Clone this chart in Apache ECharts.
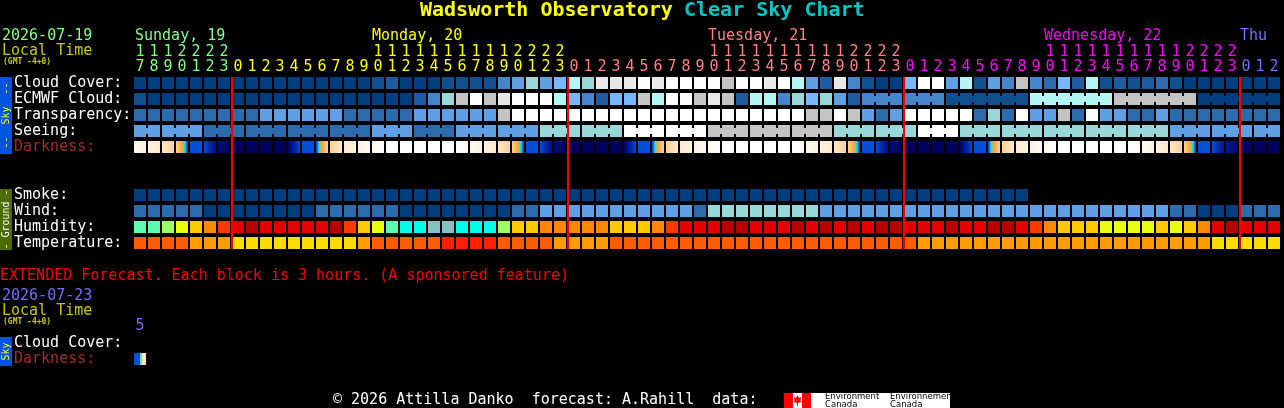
<!DOCTYPE html>
<html>
<head>
<meta charset="utf-8">
<style>html,body{margin:0;padding:0;background:#000}#c{width:1284px;height:408px}</style>
<script src="https://cdn.jsdelivr.net/npm/echarts@6/dist/echarts.min.js"></script>
</head>
<body>
<div id="c"></div>
<script>
// Hour labels (one column per forecast hour)
const hourTens = ['1','1','1','2','2','2','2','','','','','','','','','','','1','1','1','1','1','1','1','1','1','1','2','2','2','2',
  '','','','','','','','','','','1','1','1','1','1','1','1','1','1','1','2','2','2','2',
  '','','','','','','','','','','1','1','1','1','1','1','1','1','1','1','2','2','2','2','','',''];
const hourOnes = ['7','8','9','0','1','2','3','0','1','2','3','4','5','6','7','8','9','0','1','2','3','4','5','6','7','8','9','0','1','2','3',
  '0','1','2','3','4','5','6','7','8','9','0','1','2','3','4','5','6','7','8','9','0','1','2','3',
  '0','1','2','3','4','5','6','7','8','9','0','1','2','3','4','5','6','7','8','9','0','1','2','3','0','1','2'];
const midnights = [7, 31, 55, 79];
const dayColors = ['#80ff80', '#ffff00', '#ff8080', '#ff00ff', '#7070ff'];
const dayLabels = ['Sunday, 19', 'Monday, 20', 'Tuesday, 21', 'Wednesday, 22', 'Thu'];
const dayLabelCols = [0, 17, 41, 65, 79];

const rowLabels = ['Cloud Cover:', 'ECMWF Cloud:', 'Transparency:', 'Seeing:', 'Darkness:', '', ' ', 'Smoke:', 'Wind:', 'Humidity:', 'Temperature:'];
const extRowLabels = ['Cloud Cover:', 'Darkness:'];
const extHours = ['5'];

// Sky condition levels 0..11 (palette index)
const cloudCover = [0,0,0,0,0,0,0,0,0,0, 0,0,0,0,0,0,0,1,2,0, 0,0,1,1,1,1,4,5,7,5,
  6,8,7,10,10,10,11,10,11,11, 11,11,9,11,11,10,11,8,5,2, 10,4,1,0,0,6,11,11,5,8,
  1,5,4,9,4,3,6,2,8,1, 2,1,2,3,1,0,0,0,0,0, 0,0];
const ecmwfCloud = [1,0,0,0,0,0,0,0,0,0, 0,0,0,0,0,0,0,0,0,0, 2,4,7,9,11,9,10,11,11,11,
  8,6,4,2,6,6,9,8,11,11, 9,10,9,2,8,8,4,7,6,7, 5,2,4,4,4,4,4,4,1,1,
  1,1,1,1,8,8,8,8,8,8, 9,9,9,9,9,9,0,0,0,0, 0,0];
const ecmwfBlocks = [1,1,1,1,1,1,1,1,1,1, 1,1,1,1,1,1,1,1,1,1, 1,1,1,1,1,1,1,1,1,1,
  1,1,1,1,1,1,1,1,1,1, 1,1,1,1,1,1,1,1,1,1, 1,1, 3,3,6,6,6,6];
const transparency = [3,3,3,3,3,3,3,3,3,5, 5,5,5,5,5,3,3,3,3,3, 5,5,5,5,5,5,9,11,11,11,
  11,11,11,11,11,11,11,11,11,11, 11,11,11,11,11,11,11,11,9,9, 11,9,5,3,5,11,11,11,11,11,
  3,7,3,11,5,5,9,3,11,5, 5,3,3,5,3,3,3,3,3,3, 3,3];
const seeing = [5,5,5,5,5,3,3,3,3,3, 3,3,3,3,3,3,3,5,5,5, 3,3,3,5,5,5,5,5,5,7,
  7,7,7,7,7,11,11,11,11,11, 11,9,9,9,9,9,9,9,9,9, 7,7,7,7,7,7,11,11,11,7,
  7,7,7,7,7,7,7,7,7,7, 7,7,7,7,5,5,5,5,5,5, 5,5];
const seeingBlocks = [2,3,3,3,3,3,3,3,3,3, 3,3,3,3,3,3,3,3,3,3, 3,3,3,3,3,3,3,2];
// Darkness at each cell's left edge (last value closes the last cell): 0 = daylight, 8 = full night
const darkness = [0.7,1.3,2,3,4.9,6,7.6,8,8,8, 8,8,6,4.9,3,2,1.3,0.7,0,0, 0,0,0,0,0.7,1.3,2,3,4.9,6,
  7.6,8,8,8,8,8,6,4.9,3,2, 1.3,0.7,0,0,0,0,0,0,0.7,1.3, 2,3,4.9,6,7.6,8,8,8,8,8,
  6,4.9,3,2,1.3,0.7,0,0,0,0, 0,0,0.7,1.3,2,3,4.9,6,7.3,7.8, 8,8,8];
const extDarkness = [0, 1];

// Ground conditions
const smoke = [0,0,0,0,0,0,0,0,0,0, 0,0,0,0,0,0,0,0,0,0, 0,0,0,0,0,0,0,0,0,0,
  0,0,0,0,0,0,0,0,0,0, 0,0,0,0,0,0,0,0,0,0, 0,0,0,0,0,0,0,0,0,0, 0,0,0,0];
const wind = [3,3,3,3,3,0,0,0,0,0, 0,0,0,3,3,3,3,3,3,0, 0,0,0,0,0,0,0,3,3,5,
  5,5,5,5,5,5,5,5,5,5, 3,7,7,7,7,7,7,7,7,5, 5,5,5,5,5,5,5,5,5,5,
  5,5,5,5,5,5,5,5,5,5, 5,5,5,5,3,3,0,0,0,3, 3,3];
const humidity = [60,60,65,70,75,80,85,92,98,92, 92,92,92,92,98,85,75,70,60,55, 55,50,50,55,55,55,65,75,75,80,
  80,80,80,80,75,75,75,80,85,92, 92,92,98,98,92,92,92,98,92,98, 92,98,92,98,98,92,92,92,98,92,
  92,98,98,92,85,80,75,75,75,70, 70,70,70,75,70,75,80,92,98,92, 92,92];
const temperature = [21,21,21,21,18,18,18,15,15,15, 15,15,15,15,15,15,18,21,21,21, 21,21,24,24,24,24,21,21,21,21,
  18,18,18,18,21,21,21,21,21,21, 21,21,21,21,21,21,21,21,21,21, 21,21,21,21,21,21,18,18,18,18,
  18,18,18,18,18,18,18,18,18,18, 18,18,18,18,18,18,18,15,15,15, 15,15];

const skyPalette = ['#003f7f','#11508f','#1d5d9f','#2c6cad','#4585cb','#5f9fe4','#76b6fc','#98d8d8','#b4f6f6','#c4c4c4','#e8e8e8','#ffffff'];
const humidityColors = {50:'#88c0c0',55:'#00ffe8',60:'#5cffb0',65:'#9cff64',70:'#e8ff10',75:'#ffc800',80:'#ff8800',85:'#ff3800',92:'#e40000',98:'#b80000'};
const temperatureColors = {24:'#ff2000',21:'#ff5c00',18:'#ff9c00',15:'#ffdc00'};
const darkRamp = [[0,'#ffffff'],[1,'#fff6e8'],[2,'#ffe8cc'],[3,'#ffd090'],[4,'#ffa030'],[4.4,'#20e0e0'],[4.8,'#0050d8'],[6,'#0050d8'],[6.6,'#0030b0'],[7.3,'#001890'],[8,'#00005c']];
const extRamp = [[0,'#0050d8'],[0.49,'#0050d8'],[0.52,'#70d8c0'],[0.64,'#70d8c0'],[0.68,'#ffe8b0'],[1,'#ffe8c0']];

const MONO = '"DejaVu Sans Mono", monospace';

function rampColor(ramp, v) {
  for (let i = 1; i < ramp.length; i++) {
    if (v <= ramp[i][0]) {
      const a = ramp[i - 1], b = ramp[i];
      return echarts.color.lerp((v - a[0]) / (b[0] - a[0]), [a[1], b[1]]);
    }
  }
  return ramp[ramp.length - 1][1];
}
function dayIndex(col) { return midnights.filter(m => m <= col).length; }
function cells(values, row) { return values.map((v, i) => [i, row, v]); }
function linkedCells(values, row, blocks) {
  const last = new Set(); let n = 0;
  blocks.forEach(b => { n += b; last.add(n - 1); });
  return values.map((v, i) => [i, row, v, last.has(i) ? 0 : 1]);
}
function cellSeries(data, colorOf, xAxisIndex, yAxisIndex) {
  return {
    type: 'custom', xAxisIndex: xAxisIndex, yAxisIndex: yAxisIndex, data: data, silent: true,
    encode: {x: 0, y: 1}, clip: false, z: 2,
    renderItem: function (params, api) {
      const c = api.coord([api.value(0), api.value(1)]);
      const fill = colorOf(api.value(2));
      const children = [{type: 'rect', shape: {x: c[0] - 6, y: c[1] - 6, width: 12, height: 12}, style: {fill: fill}}];
      if (api.value(3) === 1) {
        children.push({type: 'rect', shape: {x: c[0] + 6, y: c[1] - 3, width: 2, height: 6}, style: {fill: fill}});
      }
      return {type: 'group', children: children};
    }
  };
}
function gradientSeries(edges, ramp, row, xAxisIndex, yAxisIndex) {
  const data = edges.slice(0, -1).map((v, i) => [i, row, v, edges[i + 1]]);
  return {
    type: 'custom', xAxisIndex: xAxisIndex, yAxisIndex: yAxisIndex, data: data, silent: true,
    encode: {x: 0, y: 1}, clip: false, z: 2,
    renderItem: function (params, api) {
      const c = api.coord([api.value(0), api.value(1)]);
      const a = api.value(2), b = api.value(3), stops = [];
      for (let k = 0; k <= 24; k++) stops.push({offset: k / 24, color: rampColor(ramp, a + (b - a) * k / 24)});
      return {type: 'rect', shape: {x: c[0] - 6, y: c[1] - 6, width: 12, height: 12},
        style: {fill: {type: 'linear', x: 0, y: 0, x2: 1, y2: 0, colorStops: stops}}};
    }
  };
}
const midnightSeries = {
  type: 'custom', xAxisIndex: 0, yAxisIndex: 0, silent: true, clip: false, z: 5,
  data: midnights.map(m => [m, 0]), encode: {x: 0, y: 1},
  renderItem: function (params, api) {
    const c0 = api.coord([api.value(0), 0]), c1 = api.coord([api.value(0), 10]), s = api.size([1, 1]);
    return {type: 'rect', shape: {x: c0[0] - s[0] / 2, y: c0[1] - 6, width: 2, height: c1[1] - c0[1] + 12}, style: {fill: '#ff0000'}};
  }
};

function topAxis(labels, gridIndex, offset, margin, colorFn) {
  return {
    type: 'category', gridIndex: gridIndex, position: 'top', offset: offset, data: labels, boundaryGap: true,
    axisLine: {show: false}, axisTick: {show: false}, splitLine: {show: false},
    axisLabel: {show: true, interval: 0, margin: margin, hideOverlap: false, fontFamily: MONO, fontSize: 15, color: colorFn}
  };
}
function rowAxis(labels, gridIndex) {
  return {
    type: 'category', gridIndex: gridIndex, inverse: true, data: labels, position: 'left',
    axisLine: {show: false}, axisTick: {show: false}, splitLine: {show: false},
    axisLabel: {show: true, interval: 0, align: 'left', margin: 119, hideOverlap: false, fontFamily: MONO, fontSize: 15, padding: [0, 0, 3, 0],
      color: v => v === 'Darkness:' ? '#a52a2a' : '#ffffff'}
  };
}
function txt(text, x, cy, color, size, weight) {
  return {type: 'text', x: x, y: cy, silent: true, z: 10,
    style: {text: text, fill: color, font: (weight || 'normal') + ' ' + size + 'px ' + MONO, verticalAlign: 'middle'}};
}
function sideBar(y0, y1, fill, label, color) {
  return [
    {type: 'rect', shape: {x: 0, y: y0, width: 12, height: y1 - y0}, style: {fill: fill}, silent: true, z: 9},
    {type: 'text', x: 6, y: (y0 + y1) / 2, rotation: Math.PI / 2, silent: true, z: 10,
      style: {text: label, fill: color, font: 'normal 10px ' + MONO, align: 'center', verticalAlign: 'middle'}}
  ];
}

const colorByCol = (v, i) => dayColors[dayIndex(i)];
const chart = echarts.init(document.getElementById('c'), null, {renderer: 'canvas'});
chart.setOption({
  animation: false,
  backgroundColor: '#000000',
  grid: [
    {left: 133, top: 75, width: 1148, height: 176, containLabel: false},
    {left: 133, top: 335, width: 14, height: 32, containLabel: false}
  ],
  xAxis: [
    topAxis(hourOnes, 0, 0, 0, colorByCol),
    topAxis(hourTens, 0, 15, 0, colorByCol),
    topAxis(extHours, 1, 0, 1, () => '#7070ff')
  ],
  yAxis: [rowAxis(rowLabels, 0), rowAxis(extRowLabels, 1)],
  series: [
    cellSeries(cells(cloudCover, 0), v => skyPalette[v], 0, 0),
    cellSeries(linkedCells(ecmwfCloud, 1, ecmwfBlocks), v => skyPalette[v], 0, 0),
    cellSeries(cells(transparency, 2), v => skyPalette[v], 0, 0),
    cellSeries(linkedCells(seeing, 3, seeingBlocks), v => skyPalette[v], 0, 0),
    gradientSeries(darkness, darkRamp, 4, 0, 0),
    cellSeries(cells(smoke, 7), v => skyPalette[v], 0, 0),
    cellSeries(cells(wind, 8), v => skyPalette[v], 0, 0),
    cellSeries(cells(humidity, 9), v => humidityColors[v], 0, 0),
    cellSeries(cells(temperature, 10), v => temperatureColors[v], 0, 0),
    gradientSeries(extDarkness, extRamp, 1, 2, 1),
    midnightSeries
  ],
  graphic: {elements: [
    txt('Wadsworth Observatory', 420, 11, '#ffff00', 20, 'bold'),
    txt('Clear Sky Chart', 684, 11, '#00c8c8', 20, 'bold'),
    txt('2026-07-19', 2, 36, '#80ff80', 15),
    txt('Local Time', 2, 51, '#c8c800', 15),
    txt('(GMT -4+0)', 3, 62, '#c8c800', 8, 'bold'),
    ...dayLabels.map((d, i) => txt(d, 134 + 14 * dayLabelCols[i] + (i === 0 ? 1 : 0), 36, dayColors[i], 15)),
    txt('EXTENDED Forecast. Each block is 3 hours. (A sponsored feature)', 0, 276, '#ff0000', 15),
    txt('2026-07-23', 2, 296, '#7070ff', 15),
    txt('Local Time', 2, 311, '#c8c800', 15),
    txt('(GMT -4+0)', 3, 322, '#c8c800', 8, 'bold'),
    ...sideBar(77, 154, '#0055e0', '--  Sky  --', '#ffff00'),
    ...sideBar(189, 250, '#4f6c00', '- Ground -', '#ffffff'),
    ...sideBar(337, 366, '#0055e0', 'Sky', '#ffff00'),
    txt('\u00a9 2026 Attilla Danko  forecast: A.Rahill  data:', 333, 400, '#ffffff', 15),
    {type: 'rect', shape: {x: 784, y: 393, width: 166, height: 15}, style: {fill: '#ffffff'}, silent: true, z: 9},
    {type: 'rect', shape: {x: 784, y: 393, width: 9, height: 15}, style: {fill: '#ff0000'}, silent: true, z: 10},
    {type: 'rect', shape: {x: 802, y: 393, width: 9, height: 15}, style: {fill: '#ff0000'}, silent: true, z: 10},
    {type: 'polygon', shape: {points: [[797.5,395],[799,398],[801,397],[800.5,401],[801.5,402],[798,403],[798,406],[797,406],[797,403],[793.5,402],[794.5,401],[794,397],[796,398]]}, style: {fill: '#ff0000'}, silent: true, z: 11},
    {type: 'text', x: 825, y: 397, silent: true, z: 11, style: {text: 'Environment', fill: '#000000', font: 'normal 8.5px "DejaVu Sans"', verticalAlign: 'middle'}},
    {type: 'text', x: 825, y: 404.5, silent: true, z: 11, style: {text: 'Canada', fill: '#000000', font: 'normal 8.5px "DejaVu Sans"', verticalAlign: 'middle'}},
    {type: 'text', x: 890, y: 397, silent: true, z: 11, style: {text: 'Environnement', fill: '#000000', font: 'normal 8.5px "DejaVu Sans"', verticalAlign: 'middle'}},
    {type: 'text', x: 890, y: 404.5, silent: true, z: 11, style: {text: 'Canada', fill: '#000000', font: 'normal 8.5px "DejaVu Sans"', verticalAlign: 'middle'}}
  ]}
});
</script>
</body>
</html>
